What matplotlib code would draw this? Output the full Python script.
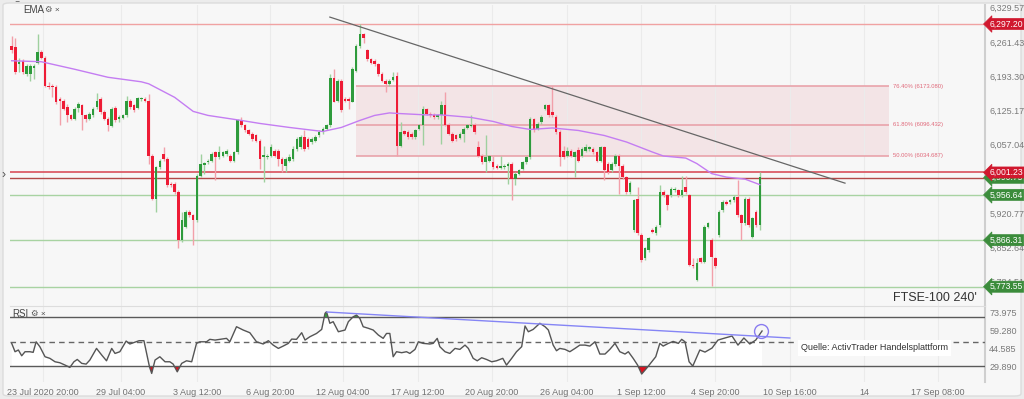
import matplotlib
matplotlib.use("Agg")
import matplotlib.pyplot as plt
from matplotlib.patches import Rectangle, FancyBboxPatch

plt.rcParams["font.family"] = ["Liberation Sans", "DejaVu Sans"]

# FTSE-100, 240 minute candles
opens = [
    6254, 6252, 6217, 6224, 6197, 6197, 6209, 6220, 6242, 6230,
    6174, 6174, 6172, 6148, 6144, 6131, 6115, 6108, 6129, 6135,
    6115, 6108, 6115, 6131, 6148, 6121, 6108, 6093, 6129, 6108,
    6109, 6115, 6144, 6135, 6129, 6148, 6148, 6144, 6035, 5949,
    6012, 6039, 6029, 5979, 5979, 5962, 5866, 5893, 5923, 5916,
    5906, 5995, 6017, 6022, 6025, 6042, 6032, 6034, 6039, 6035,
    6025, 6042, 6105, 6095, 6085, 6078, 6075, 6065, 6032, 6032,
    6035, 6045, 6045, 6029, 6015, 6025, 6029, 6048, 6052, 6072,
    6068, 6062, 6065, 6075, 6082, 6088, 6095, 6189, 6144, 6184,
    6148, 6148, 6142, 6204, 6254, 6277, 6246, 6227, 6224, 6217,
    6197, 6184, 6178, 6186, 6193, 6055, 6083, 6082, 6078, 6072,
    6088, 6095, 6127, 6118, 6116, 6111, 6115, 6136, 6096, 6078,
    6075, 6070, 6078, 6090, 6093, 6096, 6052, 6035, 6022, 6025,
    6022, 6015, 6010, 6012, 6015, 6019, 5989, 5999, 6009, 6022,
    6032, 6107, 6088, 6101, 6128, 6135, 6121, 6111, 6082, 6045,
    6035, 6045, 6032, 6047, 6035, 6045, 6048, 6048, 6042, 6025,
    6052, 6019, 6006, 6019, 6035, 6015, 5992, 5962, 5886, 5949,
    5876, 5830, 5847, 5886, 5880, 5896, 5962, 5956, 5956, 5966,
    5966, 5956, 5972, 5956, 5817, 5787, 5830, 5823, 5893, 5866,
    5830, 5876, 5926, 5943, 5943, 5946, 5952, 5916, 5900, 5949,
    5873, 5923, 5896,
]
highs = [
    6273, 6270, 6230, 6227, 6217, 6217, 6217, 6277, 6246, 6234,
    6182, 6178, 6176, 6151, 6148, 6138, 6118, 6131, 6141, 6138,
    6118, 6121, 6131, 6160, 6151, 6125, 6111, 6131, 6133, 6115,
    6118, 6153, 6148, 6138, 6152, 6152, 6151, 6158, 6039, 6015,
    6029, 6052, 6032, 5982, 5982, 5966, 5923, 5926, 5926, 5919,
    5999, 6039, 6023, 6029, 6042, 6045, 6055, 6045, 6048, 6039,
    6045, 6108, 6111, 6098, 6088, 6082, 6078, 6068, 6055, 6039,
    6058, 6048, 6048, 6032, 6032, 6039, 6055, 6072, 6075, 6085,
    6072, 6072, 6075, 6085, 6091, 6098, 6197, 6207, 6187, 6187,
    6151, 6151, 6211, 6257, 6297, 6280, 6248, 6230, 6227, 6220,
    6201, 6187, 6187, 6201, 6201, 6101, 6086, 6085, 6082, 6088,
    6098, 6133, 6129, 6121, 6119, 6118, 6144, 6161, 6099, 6082,
    6078, 6082, 6091, 6098, 6115, 6099, 6065, 6039, 6075, 6037,
    6035, 6019, 6035, 6019, 6022, 6022, 6002, 6009, 6025, 6035,
    6111, 6110, 6101, 6115, 6138, 6138, 6174, 6115, 6085, 6055,
    6052, 6048, 6045, 6052, 6052, 6058, 6055, 6052, 6045, 6055,
    6055, 6022, 6022, 6039, 6039, 6019, 5995, 5984, 5949, 5972,
    5880, 5853, 5873, 5890, 5896, 5976, 5966, 5959, 5972, 5972,
    5969, 5995, 5995, 5959, 5830, 5830, 5833, 5896, 5903, 5870,
    5833, 5926, 5946, 5946, 5949, 5956, 5986, 5919, 5952, 5952,
    5913, 5926, 6002,
]
lows = [
    6240, 6197, 6201, 6197, 6194, 6184, 6187, 6217, 6227, 6171,
    6168, 6151, 6138, 6096, 6125, 6101, 6105, 6105, 6121, 6085,
    6101, 6105, 6111, 6128, 6118, 6105, 6083, 6091, 6101, 6101,
    6108, 6111, 6128, 6121, 6127, 6144, 6141, 6019, 5946, 5923,
    6009, 6025, 5972, 5972, 5959, 5850, 5863, 5890, 5913, 5857,
    5903, 5992, 5999, 6019, 6022, 5986, 6029, 6032, 6035, 6023,
    6022, 6039, 6091, 6082, 6075, 6065, 6062, 6009, 5982, 6029,
    6032, 6032, 6015, 6002, 6002, 6022, 6025, 6045, 6048, 6045,
    6048, 6058, 6062, 6072, 6078, 6085, 6091, 6141, 6141, 6121,
    6141, 6127, 6141, 6201, 6250, 6260, 6224, 6217, 6214, 6194,
    6181, 6161, 6174, 6184, 6035, 6052, 6075, 6068, 6068, 6068,
    6085, 6056, 6115, 6111, 6108, 6108, 6058, 6093, 6075, 6062,
    6065, 6067, 6062, 6087, 6091, 6078, 6032, 6019, 6002, 6022,
    6009, 6008, 6008, 6009, 5979, 5946, 5976, 5996, 6006, 6019,
    6029, 6082, 6085, 6098, 6125, 6111, 6111, 6078, 6015, 6029,
    6032, 6032, 5992, 6022, 6032, 6042, 6045, 6039, 6022, 6022,
    5986, 5999, 6002, 6015, 5959, 5989, 5959, 5959, 5883, 5876,
    5823, 5827, 5843, 5880, 5876, 5893, 5952, 5926, 5952, 5962,
    5952, 5952, 5959, 5814, 5810, 5784, 5820, 5820, 5890, 5774,
    5810, 5873, 5923, 5936, 5939, 5943, 5913, 5866, 5896, 5893,
    5870, 5893, 5886,
]
closes = [
    6246, 6201, 6222, 6201, 6214, 6214, 6213, 6242, 6230, 6174,
    6172, 6171, 6141, 6144, 6128, 6115, 6108, 6128, 6138, 6115,
    6108, 6118, 6128, 6144, 6121, 6108, 6095, 6128, 6105, 6111,
    6115, 6144, 6131, 6125, 6149, 6149, 6144, 6035, 5949, 6012,
    6025, 6029, 5976, 5976, 5962, 5866, 5906, 5923, 5916, 5906,
    5995, 6019, 6021, 6025, 6039, 6032, 6042, 6042, 6045, 6025,
    6043, 6105, 6095, 6085, 6078, 6068, 6065, 6029, 6037, 6035,
    6052, 6035, 6029, 6019, 6029, 6032, 6048, 6068, 6072, 6048,
    6052, 6068, 6072, 6082, 6088, 6095, 6189, 6142, 6184, 6125,
    6144, 6144, 6207, 6254, 6277, 6270, 6227, 6220, 6217, 6197,
    6184, 6178, 6184, 6191, 6055, 6082, 6078, 6072, 6072, 6085,
    6095, 6127, 6118, 6115, 6111, 6115, 6136, 6096, 6078, 6065,
    6068, 6078, 6088, 6095, 6096, 6082, 6035, 6022, 6032, 6034,
    6012, 6010, 6015, 6015, 6019, 5989, 5999, 6006, 6022, 6032,
    6107, 6085, 6098, 6111, 6135, 6115, 6115, 6082, 6032, 6032,
    6045, 6035, 6042, 6025, 6048, 6052, 6052, 6042, 6025, 6052,
    6006, 6002, 6019, 6035, 6015, 5992, 5962, 5981, 5946, 5880,
    5827, 5850, 5870, 5883, 5893, 5962, 5956, 5936, 5969, 5969,
    5956, 5966, 5962, 5817, 5814, 5820, 5823, 5893, 5900, 5833,
    5814, 5923, 5943, 5939, 5946, 5952, 5916, 5900, 5949, 5896,
    5910, 5896, 5992,
]

# EMA line, (bar, value)
ema_points = [
    (0, 6224), (8, 6222), (17, 6207), (26, 6191), (35, 6182), (37, 6178),
    (44, 6151), (49, 6123), (53, 6115), (62, 6105), (67, 6099), (75, 6091),
    (84, 6083), (89, 6091), (94, 6105), (98, 6115), (102, 6120), (104, 6119),
    (112, 6116), (116, 6116), (124, 6111), (130, 6103), (135, 6093), (140, 6087),
    (146, 6090), (153, 6085), (160, 6075), (166, 6062), (173, 6042), (176, 6034),
    (182, 6030), (185, 6019), (189, 5999), (193, 5992), (198, 5988), (202, 5977),
]

# RSI line, (bar, value)
rsi_points = [
    (0, 48.5), (0.9, 41.7), (1.8, 43.1), (2.7, 38.4), (3.6, 41.7), (4.9, 41.7),
    (5.8, 41.2), (6.6, 49.8), (7.6, 45.8), (9.0, 37.6), (10.3, 36.3), (11.7, 33.5),
    (13.0, 32.7), (14.4, 30.8), (15.7, 28.9), (16.8, 33.5), (17.7, 35.4), (18.9, 32.2),
    (20.1, 31.6), (21.1, 34.9), (22.9, 44.4), (24.3, 39.0), (25.6, 34.3), (27.0, 44.4),
    (27.9, 40.3), (29.2, 41.7), (30.9, 50.4), (31.9, 48.0), (32.8, 49.0), (34.4, 50.7),
    (35.7, 50.7), (37.2, 29.4), (37.8, 24.0), (38.7, 34.9), (40.0, 37.6), (41.4, 33.5),
    (42.7, 33.5), (43.6, 31.6), (44.7, 25.3), (45.9, 32.2), (47.2, 34.3), (48.6, 33.5),
    (49.9, 48.5), (50.8, 49.8), (52.6, 49.8), (53.5, 51.8), (54.9, 51.2), (56.2, 51.8),
    (58.0, 52.6), (58.9, 49.8), (60.7, 62.1), (62.5, 59.4), (64.3, 57.2), (66.1, 49.8),
    (67.9, 48.0), (69.3, 50.7), (70.6, 47.1), (72.0, 44.4), (73.3, 46.3), (74.7, 48.5),
    (75.6, 52.0), (76.9, 51.8), (78.3, 57.2), (79.2, 51.2), (80.5, 53.9), (82.3, 56.6),
    (83.7, 59.9), (84.6, 73.0), (85.0, 74.3), (85.9, 64.9), (86.8, 66.2), (88.2, 58.0),
    (90.0, 59.4), (90.9, 66.2), (92.2, 70.2), (93.1, 71.6), (94.0, 68.9), (94.9, 62.1),
    (96.3, 60.8), (97.6, 59.4), (99.0, 55.3), (100.3, 52.6), (101.2, 56.6), (102.1, 56.6),
    (103.0, 37.6), (103.9, 41.7), (105.3, 40.9), (106.6, 41.7), (107.5, 40.3), (108.9, 43.6),
    (109.8, 49.8), (111.1, 48.5), (112.9, 48.0), (113.8, 48.5), (114.9, 52.6), (115.6, 45.8),
    (117.0, 41.7), (118.3, 40.3), (119.7, 44.4), (121.0, 43.6), (122.4, 47.1), (123.3, 44.4),
    (124.6, 36.3), (125.7, 34.3), (126.9, 36.8), (128.2, 35.4), (129.6, 33.5), (130.9, 34.3),
    (132.6, 36.3), (133.6, 30.8), (135.0, 36.3), (136.3, 41.7), (137.7, 45.8), (138.6, 62.7),
    (139.5, 58.0), (140.8, 59.9), (142.6, 64.9), (144.0, 62.1), (144.9, 59.4), (146.2, 47.1),
    (147.1, 42.5), (148.0, 44.4), (149.4, 43.6), (150.7, 41.7), (152.1, 44.4), (153.4, 47.1),
    (154.8, 47.1), (156.1, 46.3), (157.5, 49.8), (158.8, 39.8), (160.2, 39.8), (161.5, 43.6),
    (162.9, 48.5), (164.2, 41.7), (165.6, 39.8), (166.5, 41.7), (167.8, 36.3), (169.0, 30.8),
    (170.1, 23.5), (171.4, 28.1), (172.8, 33.5), (173.9, 37.6), (175.0, 48.5), (175.9, 46.3),
    (177.3, 48.5), (178.6, 50.1), (180.0, 48.5), (180.9, 51.8), (181.8, 49.8), (182.9, 33.5),
    (183.9, 30.0), (185.8, 43.1), (187.2, 41.4), (189.1, 44.7), (190.7, 51.2), (192.6, 52.9),
    (194.5, 54.5), (196.1, 47.1), (197.7, 52.9), (199.3, 48.0), (200.9, 51.2), (202.6, 58.6),
]

# drawn objects
price_ticks = [6329.57, 6261.43, 6193.30, 6125.17, 6057.04, 5988.91, 5920.77, 5852.64, 5784.51]
rsi_ticks = [73.975, 59.280, 44.585, 29.890]
red_levels = [6297.20, 6001.23]
green_levels = [5990.75, 5956.64, 5866.31, 5773.55]
fib_levels = [6173.080, 6096.432, 6034.687]
fib_names = ["76.40%", "61.80%", "50.00%"]
fib_start, fib_end = 93.0, 236.9
trend_main = ([85.9, 225.0], [6311, 5980])
trend_rsi = ([85.1, 210.1], [74.1, 52.9])
rsi_marker = (202.3, 58.6)
date_pos = [8.45, 29.5, 50.0, 69.7, 89.4, 109.7, 129.7, 149.9, 169.9, 189.9, 210.1, 230.1, 250.1]
date_labels = ["23 Jul 2020 20:00", "29 Jul 04:00", "3 Aug 12:00", "6 Aug 20:00",
               "12 Aug 04:00", "17 Aug 12:00", "20 Aug 20:00", "26 Aug 04:00",
               "1 Sep 12:00", "4 Sep 20:00", "10 Sep 16:00", "14", "17 Sep 08:00"]

UP, DOWN = "#2e9b3c", "#ee1c36"
UP_WICK, DOWN_WICK = "#9fd09f", "#f2a0aa"
BG = "#f7f7f7"

W, H = 1024, 399
fig = plt.figure(figsize=(W / 100, H / 100), dpi=100, facecolor="#ececec")
panel = FancyBboxPatch((3 / W, 3 / H), 1018 / W, 393 / H,
                       boxstyle="round,pad=0,rounding_size=0.006",
                       transform=fig.transFigure, fc=BG, ec="#dcdcdc", lw=1, zorder=-5)
fig.patches.append(panel)

ax = fig.add_axes([10 / W, 1 - 306 / H, 975 / W, 301 / H], facecolor=BG)
ax_rsi = fig.add_axes([10 / W, 1 - 382 / H, 975 / W, 76 / H], facecolor=BG, sharex=ax)

# ---------------- price panel ----------------
xs = list(range(len(closes)))
body_col = [UP if c >= o else DOWN for o, c in zip(opens, closes)]
wick_col = [UP_WICK if c >= o else DOWN_WICK for o, c in zip(opens, closes)]
ax.vlines(xs, lows, highs, colors=wick_col, lw=1, zorder=3)
ax.bar(xs, [max(abs(c - o), 1.2) for o, c in zip(opens, closes)],
       bottom=[min(o, c) for o, c in zip(opens, closes)],
       width=0.7, color=body_col, lw=0, zorder=4)

ax.add_patch(Rectangle((fib_start, fib_levels[2]), fib_end - fib_start,
                       fib_levels[0] - fib_levels[2], fc="#f3e4e6", ec="none", zorder=1))
ax.hlines(fib_levels, fib_start, fib_end, colors="#e9a3ab", lw=1.2, zorder=2)
for name, lv in zip(fib_names, fib_levels):
    ax.text(fib_end + 1.0, lv, f"{name} ({lv:.3f})", fontsize=4.2, color="#e0697a",
            va="center", ha="left", zorder=5)

ax.axhline(red_levels[0], color="#f0a2a2", lw=1, zorder=2)
ax.axhline(red_levels[1], color="#d9505c", lw=1.2, zorder=2)
ax.axhline(green_levels[0], color="#b34848", lw=1, zorder=2)
for lv in green_levels[1:]:
    ax.axhline(lv, color="#a8d3a2", lw=1, zorder=2)

ax.plot(*trend_main, color="#666666", lw=0.9, zorder=6)
ex, ey = zip(*ema_points)
ax.plot(ex, ey, color="#c47df2", lw=1, zorder=5)

ax.set_ylim(5735.1, 6335.1)
ax.set_xlim(-0.46, 262.8)
ax.yaxis.tick_right()
ax.set_yticks(price_ticks)
ax.set_yticklabels([f"{v:,.2f}" for v in price_ticks])
ax.tick_params(axis="y", length=0, pad=3, labelsize=6.5, labelcolor="#7a7a7a")
ax.tick_params(axis="x", bottom=False, labelbottom=False)
ax.set_xticks(date_pos)
ax.grid(axis="x", color="#ebebeb", lw=0.8, zorder=0)
for s in ["top", "left", "bottom"]:
    ax.spines[s].set_visible(False)
ax.spines["right"].set_color("#cfcfcf")
ax.spines["right"].set_linewidth(1.5)


def tag(level, text, color, z):
    ax.text(1.0045, level, text, transform=ax.get_yaxis_transform(), ha="left", va="center",
            fontsize=6.2, color="white", clip_on=False, zorder=z,
            bbox=dict(boxstyle="larrow,pad=0.12", fc=color, ec=color, lw=0.5))


tag(red_levels[0], "6,297.20", "#d0182e", 10)
tag(green_levels[0], "5,990.75", "#3b8c3b", 10)
tag(red_levels[1], "6,001.23", "#d0182e", 11)
for lv in green_levels[1:]:
    tag(lv, f"{lv:,.2f}", "#3b8c3b", 10)

# ---------------- RSI panel ----------------
rx, ry = zip(*rsi_points)
ax_rsi.fill_between(rx, ry, 30, where=[v >= 30 for v in ry], interpolate=True,
                    color="white", lw=0, zorder=1)
ax_rsi.fill_between(rx, ry, 30, where=[v < 30 for v in ry], interpolate=True,
                    color="#e0101e", lw=0, zorder=2)
ax_rsi.fill_between(rx, ry, 70, where=[v > 70 for v in ry], interpolate=True,
                    color="#2fae3a", lw=0, zorder=2)
ax_rsi.axhline(70, color="#5a5a5a", lw=1, zorder=3)
ax_rsi.axhline(30, color="#5a5a5a", lw=1, zorder=3)
ax_rsi.axhline(50, color="#666666", lw=1, ls=(0, (4, 3)), zorder=3)
ax_rsi.plot(rx, ry, color="#555555", lw=1, zorder=4)
ax_rsi.plot(*trend_rsi, color="#8585f5", lw=1, zorder=5)
ax_rsi.plot(*rsi_marker, "o", ms=10, mfc="none", mec="#8a7cf0", mew=1, zorder=6)

ax_rsi.set_ylim(17, 79)
ax_rsi.yaxis.tick_right()
ax_rsi.set_yticks(rsi_ticks)
ax_rsi.set_yticklabels([f"{v:.3f}" for v in rsi_ticks])
ax_rsi.tick_params(axis="y", length=0, pad=3, labelsize=6.5, labelcolor="#7a7a7a")
ax_rsi.set_xticks(date_pos)
ax_rsi.set_xticklabels(date_labels)
ax_rsi.tick_params(axis="x", length=0, pad=4, labelsize=6.5, labelcolor="#707070")
ax_rsi.grid(axis="x", color="#ebebeb", lw=0.8, zorder=0)
for s in ["left", "bottom"]:
    ax_rsi.spines[s].set_visible(False)
ax_rsi.spines["top"].set_color("#dddddd")
ax_rsi.spines["right"].set_color("#cfcfcf")
ax_rsi.spines["right"].set_linewidth(1.5)

# ---------------- texts ----------------
fig.text(15 / W, 1 - 7 / H, "‾", fontsize=7, color="#555", va="center")
fig.text(23 / W, 1 - 10 / H, "EMA", fontsize=7, color="#444", va="center")
fig.text(45 / W, 1 - 10 / H, "⚙ ×", fontsize=6, color="#555", va="center")
fig.text(12 / W, 1 - 314 / H, "RSI", fontsize=7, color="#444", va="center")
fig.text(31 / W, 1 - 314 / H, "⚙ ×", fontsize=6, color="#555", va="center")
fig.text(1 / W, 1 - 175 / H, "›", fontsize=9, color="#555", va="center")
fig.text(935 / W, 1 - 298 / H, "FTSE-100 240'", fontsize=9, color="#333", ha="center", va="center")
fig.text(801 / W, 1 - 348 / H, "Quelle: ActivTrader Handelsplattform", fontsize=6.5,
         color="#333", va="center", bbox=dict(fc="white", ec="none", pad=2.5))

fig.savefig("out.png", dpi=100, facecolor=fig.get_facecolor())
